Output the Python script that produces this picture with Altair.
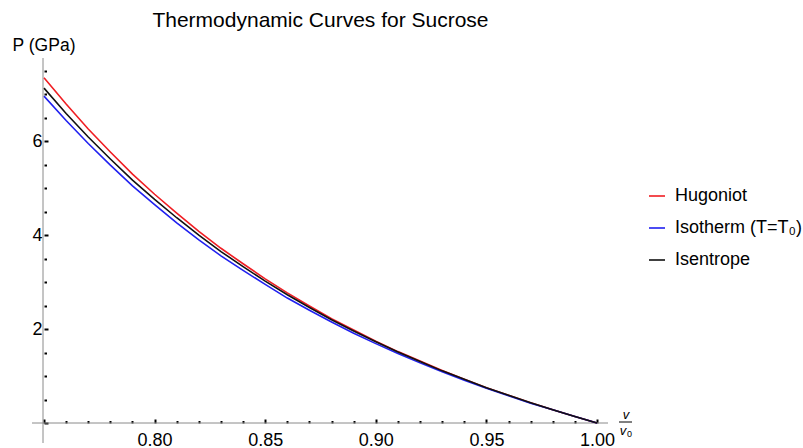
import altair as alt
import pandas as pd

# relative volume v/v0
v = [0.75, 0.76, 0.77, 0.78, 0.79, 0.80, 0.81, 0.82, 0.83, 0.84, 0.85, 0.86, 0.87,
     0.88, 0.89, 0.90, 0.91, 0.92, 0.93, 0.94, 0.95, 0.96, 0.97, 0.98, 0.99, 1.00]
# pressures in GPa
hugoniot = [7.35, 6.79, 6.26, 5.77, 5.30, 4.87, 4.47, 4.08, 3.72, 3.39, 3.07, 2.77, 2.49,
            2.22, 1.98, 1.74, 1.52, 1.32, 1.12, 0.93, 0.75, 0.59, 0.43, 0.28, 0.14, 0.00]
isotherm = [6.96, 6.44, 5.95, 5.49, 5.05, 4.65, 4.26, 3.90, 3.56, 3.25, 2.95, 2.66, 2.40,
            2.15, 1.91, 1.69, 1.48, 1.28, 1.09, 0.91, 0.74, 0.58, 0.42, 0.28, 0.14, 0.00]
isentrope = [7.13, 6.59, 6.09, 5.62, 5.17, 4.76, 4.37, 4.00, 3.65, 3.33, 3.02, 2.73, 2.46,
             2.20, 1.96, 1.73, 1.51, 1.31, 1.11, 0.93, 0.75, 0.59, 0.43, 0.28, 0.14, 0.00]

series_names = ["Hugoniot", "Isotherm (T=T₀)", "Isentrope"]
series_colors = ["#f01e23", "#2020f0", "#111111"]

x_major = [0.80, 0.85, 0.90, 0.95, 1.00]
x_ticks = [0.75, 0.76, 0.77, 0.78, 0.79, 0.80, 0.81, 0.82, 0.83, 0.84, 0.85, 0.86, 0.87,
           0.88, 0.89, 0.90, 0.91, 0.92, 0.93, 0.94, 0.95, 0.96, 0.97, 0.98, 0.99, 1.00]
y_major = [2, 4, 6]
y_ticks = [0.0, 0.5, 1.0, 1.5, 2.0, 2.5, 3.0, 3.5, 4.0, 4.5, 5.0, 5.5, 6.0, 6.5, 7.0, 7.5]

title_text = "Thermodynamic Curves for Sucrose"

FONT = "Liberation Sans"
W, H = 553, 364

rows = []
for name, vals in zip(series_names, [hugoniot, isotherm, isentrope]):
    for xv, pv in zip(v, vals):
        rows.append({"v": xv, "P": pv, "series": name})
df = pd.DataFrame(rows)

xscale = alt.Scale(domain=[0.75, 1.0], nice=False, zero=False)
yscale = alt.Scale(domain=[0, 7.75], nice=False, zero=False)

lines = alt.Chart(df).mark_line(strokeWidth=1.6).encode(
    x=alt.X("v:Q", scale=xscale, axis=alt.Axis(
        orient="bottom", values=x_major, format=".2f", tickSize=0, domain=False,
        grid=False, labelFontSize=18, labelFont=FONT, labelColor="black",
        labelPadding=8, labelFlush=False, title=None)),
    y=alt.Y("P:Q", scale=yscale, axis=alt.Axis(
        orient="left", values=y_major, tickSize=0, domain=False, grid=False,
        labelFontSize=18, labelFont=FONT, labelColor="black", labelPadding=2,
        title="P (GPa)", titleAngle=0, titleX=-0.5, titleY=-9, titleAlign="center",
        titleBaseline="alphabetic", titleFontSize=17.5, titleFont=FONT,
        titleFontWeight="normal", titleColor="black")),
    color=alt.Color("series:N", scale=alt.Scale(domain=series_names, range=series_colors),
                    legend=alt.Legend(orient="none", legendX=604, legendY=128, title=None,
                                      symbolType="stroke", symbolSize=256,
                                      symbolStrokeWidth=1.6, labelFontSize=18,
                                      labelFont=FONT, labelColor="black", labelOffset=9,
                                      rowPadding=14, padding=0)),
)

tick_layer = alt.Chart(df).mark_line(opacity=0).encode(
    x=alt.X("v:Q", scale=xscale, axis=alt.Axis(
        orient="top", offset=-H, values=x_ticks, labels=False, domain=False, grid=False,
        tickColor="black", tickWidth=2,
        tickSize={"condition": {"test": "abs(datum.value*20 - round(datum.value*20)) < 0.001",
                                "value": 4}, "value": 2.5},
        title=None)),
    y=alt.Y("P:Q", scale=yscale, axis=alt.Axis(
        orient="right", offset=-W, values=y_ticks, labels=False, domain=False, grid=False,
        tickColor="black", tickWidth=2,
        tickSize={"condition": {"test": "abs(datum.value/2 - round(datum.value/2)) < 0.001",
                                "value": 4}, "value": 2.5},
        title=None)),
    detail="series:N",
)

one = pd.DataFrame({"a": [0]})
xaxis_line = alt.Chart(one).mark_rule(color="#8a8a8a", strokeWidth=1).encode(
    x=alt.value(-12), x2=alt.value(564), y=alt.value(H))
yaxis_line = alt.Chart(one).mark_rule(color="#8a8a8a", strokeWidth=1).encode(
    x=alt.value(-1), y=alt.value(-1), y2=alt.value(384))

title_mark = alt.Chart(one).mark_text(text=title_text, font=FONT, fontSize=21,
                                      align="center", baseline="alphabetic",
                                      color="black").encode(
    x=alt.value(W / 2), y=alt.value(-32))

frac_num = alt.Chart(one).mark_text(text="v", font=FONT, fontSize=13, fontStyle="italic",
                                    align="center", baseline="alphabetic", color="black").encode(
    x=alt.value(582), y=alt.value(359.5))
frac_bar = alt.Chart(one).mark_rule(color="black", strokeWidth=1).encode(
    x=alt.value(575), x2=alt.value(588), y=alt.value(363))
frac_den = alt.Chart(one).mark_text(text="v", font=FONT, fontSize=13, fontStyle="italic",
                                    align="center", baseline="alphabetic", color="black").encode(
    x=alt.value(579), y=alt.value(376))
frac_sub = alt.Chart(one).mark_text(text="0", font=FONT, fontSize=9,
                                    align="center", baseline="alphabetic", color="black").encode(
    x=alt.value(585.5), y=alt.value(378))

chart = alt.layer(
    xaxis_line, yaxis_line, lines, tick_layer, title_mark,
    frac_num, frac_bar, frac_den, frac_sub
).resolve_axis(x="independent", y="independent").properties(
    width=W, height=H,
    autosize=alt.AutoSizeParams(type="none"),
    padding={"left": 44, "top": 59, "right": 206, "bottom": 25},
).configure(background="white").configure_view(stroke="transparent", strokeWidth=0)

chart.save("out.html", embed_options={"renderer": "svg", "actions": False})
